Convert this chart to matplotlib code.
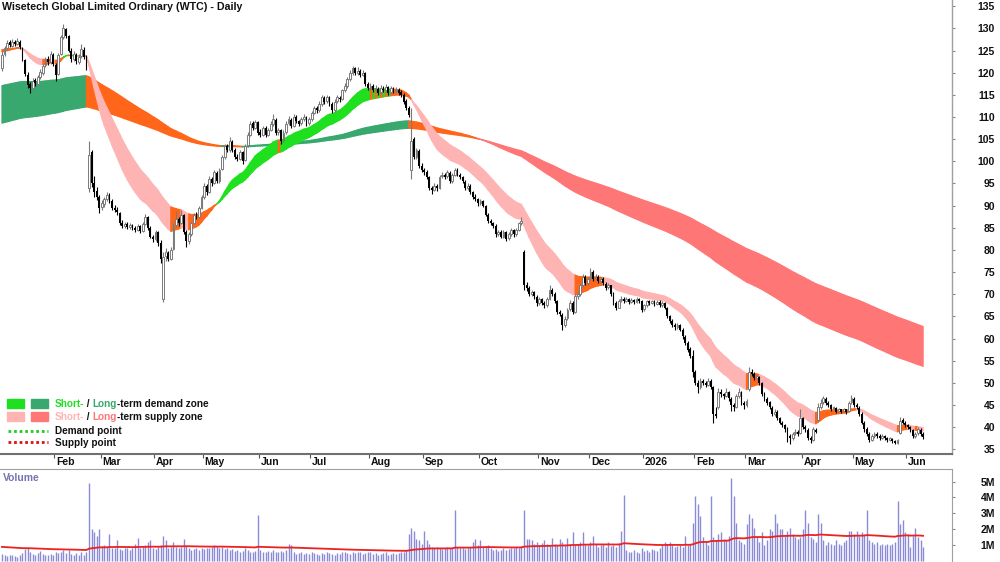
import matplotlib
matplotlib.use("Agg")
import matplotlib.pyplot as plt
import matplotlib.transforms as mtrans
from matplotlib.collections import PolyCollection
import numpy as np
import pandas as pd

plt.rcParams['font.family'] = ['Liberation Sans', 'DejaVu Sans']

title = "Wisetech Global Limited Ordinary (WTC) - Daily"

# trading days (ASX holidays and the Feb 2025 halt removed)
closed_days = ["2025-01-27", "2025-02-24", "2025-02-25", "2025-04-18", "2025-04-21",
               "2025-04-25", "2025-06-09", "2025-12-25", "2025-12-26", "2026-01-01",
               "2026-01-26", "2026-04-03", "2026-04-06", "2026-06-08"]

opens = [
    121.0, 124.2, 125.6, 126.9, 126.0, 127.0, 126.4, 127.0, 125.5, 122.8,
    119.6, 117.4, 116.6, 118.4, 117.5, 119.0, 120.0, 121.8, 123.2, 122.5,
    124.0, 121.8, 119.8, 124.2, 128.0, 129.8, 128.2, 125.0, 123.0, 124.0,
    122.4, 123.8, 125.2, 123.6, 94.0, 102.0, 95.2, 93.2, 92.0, 89.6,
    90.4, 91.5, 92.4, 91.0, 89.4, 89.0, 88.4, 86.0, 85.4, 85.8,
    85.2, 85.6, 85.0, 84.6, 85.4, 84.2, 85.8, 87.4, 85.0, 83.0,
    82.4, 84.0, 81.6, 69.0, 78.6, 79.4, 78.0, 80.2, 85.6, 87.0,
    86.0, 88.0, 84.0, 82.0, 83.5, 86.0, 88.0, 87.5, 89.5, 92.0,
    94.4, 93.0, 96.0, 95.0, 97.4, 95.5, 98.2, 101.0, 103.4, 102.6,
    104.4, 102.5, 101.0, 100.6, 102.0, 100.2, 103.6, 106.0, 108.6, 107.6,
    108.8, 106.6, 106.0, 107.6, 106.0, 107.0, 108.4, 109.4, 106.6, 107.0,
    104.6, 106.6, 108.6, 109.4, 108.0, 110.0, 109.0, 108.6, 109.6, 110.0,
    108.6, 109.6, 111.0, 112.0, 111.6, 113.0, 114.4, 113.6, 114.4, 113.0,
    111.6, 113.6, 114.4, 114.0, 116.0, 117.0, 118.6, 120.0, 121.0, 120.0,
    120.4, 119.6, 120.0, 117.4, 116.6, 117.0, 116.0, 116.4, 115.6, 116.4,
    116.0, 116.8, 115.6, 116.4, 115.8, 116.2, 115.6, 115.0, 113.6, 112.0,
    98.0, 105.0, 101.0, 102.4, 99.0, 98.0, 97.6, 96.4, 94.0, 93.6,
    94.4, 94.0, 96.6, 97.0, 96.6, 97.4, 95.6, 97.0, 98.0, 97.0,
    96.4, 95.4, 94.0, 94.4, 93.0, 92.0, 91.4, 90.6, 91.0, 90.0,
    88.0, 86.6, 86.0, 85.4, 83.6, 84.0, 83.0, 84.0, 82.6, 83.6,
    84.4, 83.6, 84.6, 86.0, 79.5, 72.0, 71.4, 70.0, 70.4, 69.4,
    68.0, 69.0, 68.0, 67.6, 69.0, 71.0, 70.0, 68.4, 66.0, 65.4,
    63.0, 64.6, 66.6, 68.0, 66.0, 69.6, 70.0, 72.0, 74.0, 72.6,
    73.6, 75.0, 73.6, 74.0, 73.0, 73.4, 72.4, 71.6, 72.0, 70.0,
    68.0, 67.0, 68.6, 69.0, 68.4, 69.0, 68.2, 68.8, 68.2, 69.0,
    68.4, 66.6, 67.6, 68.4, 68.0, 68.4, 67.8, 68.2, 67.6, 68.0,
    67.0, 65.0, 64.0, 63.0, 62.6, 63.0, 62.0, 60.4, 59.0, 57.6,
    56.0, 52.4, 50.0, 49.0, 50.4, 50.0, 49.6, 50.4, 49.0, 43.0,
    44.6, 48.0, 47.4, 47.0, 48.0, 46.4, 45.0, 44.6, 47.0, 48.0,
    45.4, 45.0, 48.5, 52.5, 52.0, 51.0, 51.4, 50.0, 47.6, 46.4,
    45.6, 44.4, 43.0, 43.4, 42.0, 41.0, 40.4, 39.6, 38.0, 37.6,
    38.6, 39.0, 38.6, 42.0, 40.0, 39.4, 37.6, 37.0, 39.4, 41.6,
    44.6, 45.6, 46.4, 45.4, 45.0, 44.0, 44.4, 43.6, 44.0, 43.6,
    44.0, 43.6, 45.6, 46.4, 45.0, 44.4, 43.0, 41.0, 39.6, 38.4,
    37.0, 38.0, 38.4, 38.0, 37.6, 38.0, 37.6, 37.0, 37.4, 36.8,
    36.5, 38.6, 41.6, 41.0, 40.4, 40.0, 39.4, 38.0, 38.6, 39.4, 38.4]

highs = [
    125.0, 126.0, 127.4, 127.3, 127.6, 127.5, 127.8, 127.3, 125.8, 123.2,
    120.2, 118.0, 118.8, 118.9, 119.5, 120.8, 122.0, 123.6, 123.8, 124.8,
    124.4, 122.2, 124.5, 128.6, 131.0, 130.2, 128.6, 125.6, 124.8, 124.4,
    124.2, 126.6, 125.8, 124.0, 104.5, 102.6, 96.6, 94.2, 92.5, 91.2,
    92.0, 93.0, 92.8, 91.4, 90.2, 89.6, 88.6, 86.8, 86.4, 86.2,
    86.0, 85.9, 85.4, 85.8, 85.6, 86.2, 88.2, 87.6, 85.4, 83.4,
    84.6, 84.2, 82.2, 79.5, 80.4, 79.8, 80.6, 86.0, 88.8, 87.4,
    89.0, 88.2, 84.4, 84.0, 86.4, 88.4, 88.6, 90.0, 92.4, 95.0,
    94.8, 96.6, 96.4, 98.0, 97.8, 98.4, 101.4, 104.0, 104.0, 105.4,
    104.8, 103.0, 101.6, 102.6, 102.4, 104.0, 106.6, 109.2, 109.0, 109.4,
    109.2, 107.2, 108.0, 108.0, 107.6, 109.0, 110.6, 109.8, 107.6, 107.2,
    107.0, 109.0, 110.2, 109.8, 110.6, 110.4, 109.4, 110.0, 110.6, 110.2,
    110.0, 111.4, 112.6, 112.4, 113.6, 115.0, 114.8, 115.0, 114.8, 113.4,
    114.0, 115.0, 114.8, 116.4, 117.6, 119.0, 120.6, 121.6, 121.4, 121.2,
    120.8, 120.6, 120.2, 117.8, 117.6, 117.4, 117.2, 116.8, 117.2, 117.0,
    117.4, 117.0, 117.0, 116.8, 116.8, 116.6, 116.0, 115.4, 114.0, 112.4,
    112.0, 105.6, 103.0, 102.8, 99.6, 98.6, 98.0, 96.8, 94.4, 95.0,
    94.8, 97.0, 97.6, 97.4, 98.0, 97.8, 97.4, 98.6, 98.4, 97.4,
    96.8, 95.8, 95.0, 94.8, 93.4, 92.6, 91.8, 91.4, 91.2, 90.2,
    88.4, 87.0, 86.4, 85.8, 84.6, 84.4, 84.6, 84.2, 84.0, 85.0,
    84.8, 85.0, 86.4, 87.4, 80.0, 72.8, 71.8, 71.0, 70.8, 69.8,
    69.4, 69.2, 68.4, 69.4, 72.0, 71.4, 70.4, 68.8, 66.4, 65.8,
    65.0, 67.0, 68.6, 68.4, 70.0, 70.6, 72.6, 74.6, 74.4, 74.0,
    76.0, 75.4, 74.6, 74.4, 74.0, 73.8, 72.8, 72.6, 72.2, 70.4,
    68.4, 69.0, 69.6, 69.4, 69.4, 69.2, 69.2, 69.0, 69.4, 69.2,
    68.8, 67.8, 68.8, 68.8, 68.8, 68.8, 68.6, 68.6, 68.4, 68.2,
    67.2, 65.4, 64.4, 63.4, 63.4, 63.2, 62.4, 60.8, 59.4, 58.0,
    57.4, 52.8, 50.6, 51.0, 50.8, 50.4, 51.0, 50.8, 49.2, 44.6,
    48.8, 48.6, 47.8, 48.8, 48.2, 46.8, 45.4, 47.4, 48.8, 48.2,
    45.8, 46.4, 53.5, 53.2, 52.4, 51.8, 51.6, 50.2, 48.0, 46.8,
    46.0, 44.8, 44.0, 43.8, 42.4, 41.4, 40.8, 40.0, 38.4, 39.0,
    39.6, 39.4, 44.0, 42.4, 40.4, 39.8, 38.0, 40.0, 39.8, 45.4,
    46.4, 47.0, 46.8, 45.8, 45.2, 44.8, 44.6, 44.4, 44.2, 44.4,
    44.2, 46.0, 47.2, 46.8, 45.4, 44.8, 43.4, 41.4, 40.0, 38.8,
    38.4, 39.0, 38.8, 38.4, 38.4, 38.2, 37.8, 37.8, 37.6, 37.0,
    37.4, 42.4, 42.0, 41.4, 40.8, 40.2, 39.6, 39.0, 40.0, 39.8, 38.8]

lows = [
    120.5, 123.8, 125.2, 125.7, 125.8, 126.0, 126.2, 125.4, 122.6, 119.2,
    116.6, 115.4, 116.2, 117.0, 117.2, 118.6, 119.6, 121.2, 121.8, 122.0,
    121.6, 118.2, 119.5, 124.0, 127.6, 127.8, 124.6, 122.4, 122.6, 122.0,
    122.0, 123.4, 123.0, 120.6, 93.0, 94.2, 92.0, 91.2, 88.4, 89.0,
    89.8, 91.0, 90.6, 89.0, 88.6, 88.0, 85.6, 85.0, 85.0, 84.8,
    84.8, 84.6, 84.0, 84.2, 83.8, 84.0, 85.6, 84.6, 82.6, 81.8,
    82.0, 81.0, 77.0, 68.3, 77.6, 77.4, 77.8, 80.0, 85.2, 85.4,
    85.8, 83.6, 80.6, 81.4, 83.2, 85.8, 87.0, 87.2, 89.2, 91.6,
    92.4, 92.8, 94.4, 94.8, 95.0, 95.2, 98.0, 100.6, 102.0, 102.2,
    102.0, 100.6, 100.0, 100.2, 99.5, 100.0, 103.2, 105.8, 107.0, 107.2,
    106.0, 105.6, 105.8, 105.6, 105.8, 106.8, 108.0, 106.0, 106.0, 104.0,
    104.4, 106.2, 108.2, 107.6, 107.8, 108.6, 108.0, 108.2, 109.2, 108.0,
    108.2, 109.2, 110.6, 111.0, 111.2, 112.6, 113.0, 113.2, 112.6, 111.0,
    111.2, 113.2, 113.4, 113.8, 115.6, 116.6, 118.2, 119.6, 119.6, 119.6,
    119.0, 119.2, 117.0, 116.0, 116.2, 115.6, 115.6, 115.0, 115.2, 115.6,
    115.6, 115.0, 115.2, 115.4, 115.4, 115.0, 114.6, 113.0, 111.6, 110.0,
    96.0, 100.6, 100.6, 98.6, 97.6, 97.0, 96.0, 93.6, 92.6, 93.2,
    93.4, 93.8, 96.2, 96.0, 96.2, 95.0, 95.2, 96.6, 96.6, 96.0,
    95.0, 93.6, 93.6, 92.6, 91.6, 91.0, 90.0, 90.2, 89.6, 87.6,
    86.0, 85.6, 85.0, 83.0, 83.2, 82.6, 82.8, 82.0, 82.2, 83.2,
    83.0, 83.2, 84.2, 85.6, 71.0, 70.8, 69.6, 69.6, 69.0, 67.4,
    67.6, 67.6, 67.0, 67.2, 68.6, 69.6, 68.0, 65.6, 65.0, 62.0,
    62.6, 64.2, 66.2, 65.6, 65.8, 69.0, 69.6, 71.6, 72.0, 72.2,
    73.2, 73.0, 73.2, 72.6, 72.6, 72.0, 71.0, 71.2, 69.6, 67.6,
    66.4, 66.8, 68.2, 68.0, 68.2, 67.8, 68.0, 67.8, 68.0, 68.0,
    66.0, 66.2, 67.2, 67.6, 67.8, 67.4, 67.6, 67.2, 67.2, 66.6,
    64.6, 63.6, 62.6, 62.0, 62.2, 61.6, 60.0, 58.6, 57.0, 55.6,
    51.4, 49.6, 47.8, 48.6, 49.6, 49.0, 49.2, 48.6, 41.0, 42.0,
    44.2, 46.8, 46.4, 46.8, 46.0, 43.6, 43.6, 44.4, 46.6, 45.0,
    44.0, 44.6, 48.2, 51.6, 50.6, 50.6, 49.6, 47.0, 46.0, 45.0,
    44.0, 42.6, 42.6, 41.6, 40.6, 40.0, 39.0, 36.6, 36.2, 37.2,
    38.2, 38.0, 38.4, 39.6, 39.0, 37.0, 36.4, 36.8, 38.6, 41.4,
    44.2, 45.2, 45.0, 44.6, 43.6, 43.8, 43.2, 43.4, 43.2, 43.4,
    43.0, 43.4, 45.2, 44.6, 44.0, 42.6, 40.6, 39.0, 38.0, 36.6,
    36.8, 37.6, 37.6, 37.2, 37.4, 37.2, 36.6, 36.8, 36.4, 36.2,
    36.2, 38.4, 40.6, 40.0, 39.6, 39.0, 37.6, 37.6, 38.2, 38.0, 37.4]

closes = [
    124.0, 125.5, 126.8, 126.2, 127.0, 126.5, 127.2, 125.8, 123.0, 119.8,
    117.2, 116.5, 118.2, 117.6, 119.0, 120.2, 121.6, 123.0, 122.4, 124.2,
    122.0, 119.6, 124.0, 128.0, 130.0, 128.4, 125.0, 123.2, 124.2, 122.6,
    123.6, 125.4, 123.6, 121.0, 101.5, 95.0, 93.0, 92.0, 89.5, 90.5,
    91.5, 92.5, 91.0, 89.5, 89.0, 88.5, 86.0, 85.5, 85.8, 85.2,
    85.6, 85.0, 84.6, 85.4, 84.2, 85.8, 87.5, 85.0, 83.0, 82.5,
    84.0, 81.5, 78.0, 78.5, 79.5, 78.0, 80.0, 85.5, 87.0, 86.0,
    88.0, 84.0, 82.0, 83.5, 86.0, 88.0, 87.5, 89.5, 92.0, 94.5,
    93.0, 96.0, 95.0, 97.5, 95.5, 98.0, 101.0, 103.5, 102.5, 104.5,
    102.5, 101.0, 100.5, 102.0, 100.0, 103.5, 106.0, 108.5, 107.5, 108.8,
    106.5, 106.0, 107.5, 106.0, 107.0, 108.5, 109.5, 106.5, 107.0, 104.5,
    106.5, 108.5, 109.5, 108.0, 110.0, 109.0, 108.5, 109.5, 110.0, 108.5,
    109.5, 111.0, 112.0, 111.5, 113.0, 114.5, 113.5, 114.5, 113.0, 111.5,
    113.5, 114.5, 114.0, 116.0, 117.0, 118.5, 120.0, 121.0, 120.0, 120.5,
    119.5, 120.0, 117.5, 116.5, 117.0, 116.0, 116.5, 115.5, 116.5, 116.0,
    116.8, 115.5, 116.5, 115.8, 116.2, 115.5, 115.0, 113.5, 112.0, 110.5,
    104.5, 101.0, 102.5, 99.0, 98.0, 97.5, 96.5, 94.0, 93.5, 94.5,
    94.0, 96.5, 97.0, 96.5, 97.5, 95.5, 97.0, 98.0, 97.0, 96.5,
    95.5, 94.0, 94.5, 93.0, 92.0, 91.5, 90.5, 91.0, 90.0, 88.0,
    86.5, 86.0, 85.5, 83.5, 84.0, 83.0, 84.0, 82.5, 83.5, 84.5,
    83.5, 84.5, 86.0, 86.5, 72.0, 71.5, 70.0, 70.5, 69.5, 68.0,
    69.0, 68.0, 67.5, 69.0, 71.0, 70.0, 68.5, 66.0, 65.5, 63.0,
    64.5, 66.5, 68.0, 66.0, 69.5, 70.0, 72.0, 74.0, 72.5, 73.5,
    75.0, 73.5, 74.0, 73.0, 73.5, 72.5, 71.5, 72.0, 70.0, 68.0,
    67.0, 68.5, 69.0, 68.5, 69.0, 68.2, 68.8, 68.2, 69.0, 68.5,
    66.5, 67.5, 68.5, 68.0, 68.5, 67.8, 68.3, 67.5, 68.0, 67.0,
    65.0, 64.0, 63.0, 62.5, 63.0, 62.0, 60.5, 59.0, 57.5, 56.0,
    52.5, 50.0, 49.0, 50.5, 50.0, 49.5, 50.5, 49.0, 43.0, 42.5,
    48.0, 47.5, 47.0, 48.0, 46.5, 45.0, 44.5, 47.0, 48.0, 45.5,
    45.0, 46.0, 52.5, 52.0, 51.0, 51.5, 50.0, 47.5, 46.5, 45.5,
    44.5, 43.0, 43.5, 42.0, 41.0, 40.5, 39.5, 38.0, 37.5, 38.5,
    39.0, 38.5, 42.0, 40.0, 39.5, 37.5, 37.0, 39.5, 39.0, 44.5,
    45.5, 46.5, 45.5, 45.0, 44.0, 44.5, 43.5, 44.0, 43.5, 44.0,
    43.5, 45.5, 46.5, 45.0, 44.5, 43.0, 41.0, 39.5, 38.5, 37.0,
    38.0, 38.5, 38.0, 37.5, 38.0, 37.5, 37.0, 37.5, 36.8, 36.5,
    37.0, 41.5, 41.0, 40.5, 40.0, 39.5, 38.0, 38.5, 39.5, 38.5, 37.8]

# volume, millions of shares
volume_m = [
    0.45, 0.35, 0.3, 0.4, 0.35, 0.3, 0.25, 0.35, 0.5, 0.75,
    0.8, 0.6, 0.45, 0.4, 0.5, 0.65, 0.45, 0.4, 0.35, 0.45,
    0.4, 0.6, 0.5, 0.55, 0.7, 0.5, 0.7, 0.45, 0.4, 0.5,
    0.4, 0.55, 0.4, 0.6, 4.9, 2.0, 1.8, 1.6, 2.0, 0.95,
    1.0, 0.9, 1.7, 0.85, 0.8, 1.3, 0.75, 0.7, 0.85, 0.8,
    0.7, 0.8, 1.1, 1.45, 0.85, 0.9, 1.0, 1.2, 1.3, 0.8,
    0.75, 0.9, 1.0, 1.6, 1.35, 0.8, 0.9, 1.2, 0.9, 0.8,
    0.9, 1.4, 0.95, 0.8, 0.7, 0.75, 0.8, 0.7, 0.8, 0.75,
    0.85, 0.8, 0.9, 1.0, 0.95, 0.85, 0.9, 0.75, 0.8, 0.7,
    0.75, 0.65, 0.7, 0.6, 0.65, 0.8, 0.7, 0.6, 0.55, 0.65,
    2.9, 0.7, 0.6, 0.55, 0.65, 0.6, 0.7, 0.55, 0.6, 0.65,
    0.6, 0.7, 1.05, 1.0, 0.55, 0.45, 0.5, 0.55, 0.45, 0.5,
    0.45, 0.55, 0.5, 0.45, 0.4, 0.5, 0.45, 0.55, 0.5, 0.45,
    0.4, 0.5, 0.45, 0.55, 0.6, 0.5, 0.45, 0.55, 0.5, 0.6,
    0.55, 0.45, 0.5, 0.6, 0.55, 0.45, 0.5, 0.4, 0.45, 0.5,
    0.55, 0.4, 0.45, 0.5, 0.45, 0.5, 0.55, 0.6, 0.7, 1.7,
    2.1, 1.9, 1.4, 1.3, 1.1, 1.9, 1.3, 1.1, 0.9, 0.85,
    0.9, 0.8, 0.75, 0.85, 0.9, 0.8, 0.85, 3.2, 0.9, 0.8,
    0.85, 0.75, 0.8, 0.9, 1.2, 1.4, 1.0, 1.3, 0.9, 0.95,
    1.0, 0.8, 0.7, 0.75, 0.65, 0.7, 0.8, 0.7, 0.75, 0.8,
    0.85, 0.9, 0.8, 0.95, 3.2, 1.4, 1.4, 1.3, 1.1, 1.2,
    1.0, 1.15, 1.3, 1.1, 1.0, 1.45, 1.1, 1.0, 1.4, 1.2,
    1.0, 1.45, 1.1, 1.8, 1.0, 1.1, 1.2, 1.85, 1.1, 1.0,
    1.2, 1.6, 1.1, 0.9, 1.0, 1.1, 0.9, 1.2, 0.95, 1.0,
    0.9, 1.15, 1.9, 4.15, 0.7, 0.6, 0.55, 0.7, 0.6, 0.5,
    0.8, 0.65, 0.7, 0.6, 0.75, 0.7, 0.65, 0.8, 1.0, 1.2,
    1.1, 1.2, 1.0, 0.9, 0.95, 1.0, 0.9, 1.6, 1.0, 1.1,
    2.4, 4.1, 3.6, 2.85, 1.5, 1.2, 1.0, 4.1, 1.5, 1.3,
    1.7, 1.8, 1.4, 1.3, 1.6, 5.25, 4.1, 2.4, 1.3, 1.2,
    1.1, 2.3, 2.95, 2.7, 2.1, 1.5, 1.2, 1.85, 1.0, 1.3,
    2.0, 1.9, 2.95, 2.4, 2.0, 2.0, 1.6, 1.9, 2.1, 1.7,
    1.5, 1.4, 1.5, 2.0, 3.2, 2.4, 1.5, 1.4, 1.2, 2.95,
    2.4, 1.3, 1.0, 1.2, 1.1, 1.0, 1.3, 1.1, 1.0, 1.2,
    1.3, 1.9, 1.9, 1.7, 1.9, 1.6, 1.8, 1.7, 3.2, 1.3,
    1.2, 1.1, 1.2, 1.0, 1.1, 1.0, 1.1, 1.0, 1.1, 1.2,
    3.75, 2.3, 2.6, 1.8, 1.7, 0.9, 1.6, 2.1, 1.5, 1.3, 0.9]

# zone spans and their starting levels on the first bar
short_spans = (20, 34)
short_start = (124.8, 125.3)
long_spans = (150, 230)
long_start = (117.0, 108.5)
vol_span = 100
vol_start = 0.9

price_ticks = list(range(35, 140, 5))
vol_ticks = [1, 2, 3, 4, 5]

GREEN_S = "#1fe01f"
GREEN_L = "#38a86e"
PINK_S = "#ffb4b4"
RED_L = "#ff7676"
ORANGE = "#ff6619"


def ema(vals, span, seed):
    a = 2.0 / (span + 1)
    out = []
    e = seed
    for v in vals:
        e = e + a * (v - e)
        out.append(e)
    return np.array(out)


o = np.array(opens)
h = np.array(highs)
l = np.array(lows)
c = np.array(closes)
vol = np.array(volume_m)
n = len(c)
x = np.arange(n)

dates = pd.bdate_range("2025-01-02", "2026-06-10")
dates = dates[~dates.isin(pd.to_datetime(closed_days))][:n]

sf = ema(c, short_spans[0], short_start[0])
ss = ema(c, short_spans[1], short_start[1])
lf = ema(c, long_spans[0], long_start[0])
ls = ema(c, long_spans[1], long_start[1])
vol_ma = ema(vol, vol_span, vol_start)


def short_colours(fast, slow):
    # orange while the fast line turns against the trend
    cols = [ORANGE]
    for i in range(1, n):
        rising = fast[i] >= fast[i - 1]
        if fast[i] >= slow[i]:
            cols.append(GREEN_S if rising else ORANGE)
        else:
            cols.append(ORANGE if rising else PINK_S)
    return cols


def long_colours(fast, slow):
    # orange while price sits on the wrong side of the slow line
    cols = []
    for f, s, p in zip(fast, slow, c):
        if f >= s:
            cols.append(GREEN_L if p >= s else ORANGE)
        else:
            cols.append(RED_L if p <= s else ORANGE)
    return cols


def draw_zone(ax, a, b, cols, z):
    verts = []
    fc = []
    for i in range(n - 1):
        verts.append([(i, a[i]), (i + 1, a[i + 1]), (i + 1, b[i + 1]), (i, b[i])])
        fc.append(cols[i + 1])
    pc = PolyCollection(verts, facecolors=fc, edgecolors=fc, linewidths=0.9, zorder=z)
    ax.add_collection(pc)


fig = plt.figure(figsize=(10, 5.62), dpi=100)
ax = fig.add_axes([0, 108 / 562, 0.952, 454 / 562])
axv = fig.add_axes([0, 0, 0.952, 93 / 562])

# zones
draw_zone(ax, lf, ls, long_colours(lf, ls), 1)
draw_zone(ax, sf, ss, short_colours(sf, ss), 2)

# candles
up = c >= o
body_lo = np.minimum(o, c)
body_h = np.maximum(np.abs(c - o), 0.2)
ax.vlines(x[up], l[up], h[up], color="#7a7a7a", lw=0.8, zorder=3)
ax.vlines(x[~up], l[~up], h[~up], color="black", lw=0.8, zorder=3)
ax.bar(x[up], body_h[up], bottom=body_lo[up], width=0.72, facecolor="white",
       edgecolor="#7a7a7a", linewidth=0.7, zorder=4)
ax.bar(x[~up], body_h[~up], bottom=body_lo[~up], width=0.72, color="black",
       linewidth=0, zorder=4)

ax.set_xlim(-0.78, 371.3)
ax.set_ylim(33.94, 136.42)

# axes styling
for s in ["top", "left"]:
    ax.spines[s].set_visible(False)
    axv.spines[s].set_visible(False)
ax.spines["bottom"].set_color("#707070")
ax.spines["bottom"].set_linewidth(1.5)
ax.spines["right"].set_color("#a0a0a0")
ax.spines["right"].set_linewidth(1.0)
axv.spines["bottom"].set_visible(False)
axv.spines["top"].set_visible(True)
axv.spines["top"].set_color("#a0a0a0")
axv.spines["right"].set_color("#a0a0a0")

font = dict(fontweight="bold", fontsize=7.5, color="#111111")

ax.yaxis.tick_right()
ax.set_yticks(price_ticks)
ax.set_yticklabels([str(v) for v in price_ticks], **font)
ax.tick_params(axis="y", direction="out", length=2, pad=29, colors="#888888", labelcolor="#111111")
for lab in ax.get_yticklabels():
    lab.set_horizontalalignment("right")

month_idx = [i for i in range(1, n) if dates[i].month != dates[i - 1].month]
month_lab = ["2026" if dates[i].month == 1 else dates[i].strftime("%b") for i in month_idx]
ax.set_xticks([i - 0.5 for i in month_idx])
ax.set_xticklabels([])
ax.tick_params(axis="x", direction="out", length=3, colors="#555555")
tr = mtrans.blended_transform_factory(ax.transData, ax.transAxes)
for i, lab in zip(month_idx, month_lab):
    ax.text(i + 0.2, -0.006, lab, transform=tr, ha="left", va="top", **font)

# volume panel
axv.vlines(x, 0, vol, color="#8a8ad6", lw=1.0, zorder=2)
axv.plot(x, vol_ma, color="#ee2020", lw=1.3, zorder=3)
axv.set_xlim(-0.78, 371.3)
axv.set_ylim(-0.06, 5.79)
axv.set_xticks([])
axv.yaxis.tick_right()
axv.set_yticks(vol_ticks)
axv.set_yticklabels([f"{v}M" for v in vol_ticks], **font)
axv.tick_params(axis="y", direction="out", length=2, pad=29, colors="#888888", labelcolor="#111111")
for lab in axv.get_yticklabels():
    lab.set_horizontalalignment("right")

fig.text(3 / 1000, 1 - 478 / 562, "Volume", ha="left", va="center",
         fontweight="bold", fontsize=7.5, color="#7474b4")

fig.text(2 / 1000, 1 - 2 / 562, title, ha="left", va="top",
         fontweight="bold", fontsize=7.7, color="#111111")

# legend
fig.patches.append(plt.Rectangle((7 / 1000, 1 - 408 / 562), 17 / 1000, 9 / 562,
                                 transform=fig.transFigure, color=GREEN_S))
fig.patches.append(plt.Rectangle((31 / 1000, 1 - 408 / 562), 17 / 1000, 9 / 562,
                                 transform=fig.transFigure, color=GREEN_L))
fig.patches.append(plt.Rectangle((7 / 1000, 1 - 421 / 562), 17 / 1000, 9 / 562,
                                 transform=fig.transFigure, color=PINK_S))
fig.patches.append(plt.Rectangle((31 / 1000, 1 - 421 / 562), 17 / 1000, 9 / 562,
                                 transform=fig.transFigure, color=RED_L))
fig.lines.append(plt.Line2D([8 / 1000, 48 / 1000], [1 - 431 / 562] * 2, transform=fig.transFigure,
                            color="#22cc22", lw=2, linestyle=(0, (1, 1))))
fig.lines.append(plt.Line2D([8 / 1000, 48 / 1000], [1 - 442 / 562] * 2, transform=fig.transFigure,
                            color="#dd1111", lw=2, linestyle=(0, (1, 1))))


def chain(y, parts):
    t = fig.text(55 / 1000, 1 - y / 562, parts[0][0], color=parts[0][1], ha="left",
                 va="center", fontweight="bold", fontsize=7.2)
    for s, col in parts[1:]:
        t = ax.annotate(s, xy=(1, 0.5), xycoords=t, ha="left", va="center", color=col,
                        fontweight="bold", fontsize=7.2, annotation_clip=False)


chain(404, [("Short-", GREEN_S), (" / ", "#111111"), ("Long", GREEN_L),
            ("-term demand zone", "#111111")])
chain(417, [("Short-", PINK_S), (" / ", "#111111"), ("Long", RED_L),
            ("-term supply zone", "#111111")])
chain(431, [("Demand point", "#111111")])
chain(443, [("Supply point", "#111111")])

fig.savefig("out.png", dpi=100)
